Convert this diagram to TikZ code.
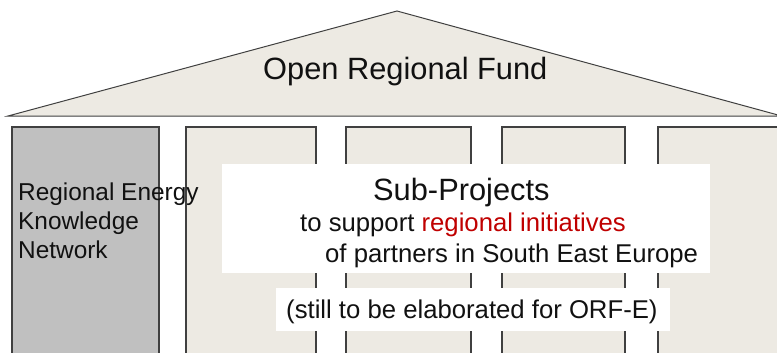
\documentclass[tikz,border=0pt]{standalone}
\usepackage{fontspec}
\setmainfont{Liberation Sans}
\definecolor{beige}{HTML}{EDEAE3}
\definecolor{pgray}{HTML}{C0C0C0}
\definecolor{edge}{HTML}{404040}
\definecolor{redtxt}{HTML}{C00000}
\definecolor{txt}{HTML}{111111}
\tikzset{
  pillar/.style={fill=beige, draw=edge, line width=1.1pt},
  graypillar/.style={fill=pgray, draw=edge, line width=1.1pt},
  roof/.style={fill=beige, draw=edge, line width=1pt, line join=miter},
  wbox/.style={fill=white, draw=none},
  lbl/.style={inner sep=0pt, text=txt, anchor=base west}
}
\begin{document}
\begin{tikzpicture}[x=1pt, y=-1pt]
\useasboundingbox (0,0) rectangle (777,353);
\clip (0,0) rectangle (777,353);
% roof
\draw[roof] (8,116) -- (397,11) -- (778,115) -- (778,116) -- cycle;
% pillars
\draw[graypillar] (12,360) -- (12,127) -- (159,127) -- (159,360);
\draw[pillar] (186,360) -- (186,127) -- (316,127) -- (316,360);
\draw[pillar] (346,360) -- (346,127) -- (471,127) -- (471,360);
\draw[pillar] (502,360) -- (502,127) -- (625,127) -- (625,360);
\draw[pillar] (658,360) -- (658,127) -- (790,127);
\fill[beige] (659,128) rectangle (790,360);
% white boxes
\fill[wbox] (222,164) rectangle (710,273);
\fill[wbox] (276,288) rectangle (670,331);
% texts
\node[lbl, font=\fontsize{30.8}{34}\selectfont] (title) at (263,80) {Open Regional Fund};
\node[lbl, font=\fontsize{24.4}{28}\selectfont] (rekn1) at (18,200) {Regional Energy};
\node[lbl, font=\fontsize{24.4}{28}\selectfont] (rekn2) at (18,229) {Knowledge};
\node[lbl, font=\fontsize{24.4}{28}\selectfont] (rekn3) at (18,258) {Network};
\node[lbl, font=\fontsize{30.8}{34}\selectfont] (sub) at (373,200) {Sub-Projects};
\node[lbl, font=\fontsize{25.7}{30}\selectfont] (sup1) at (300,231) {to support \textcolor{redtxt}{regional initiatives}};
\node[lbl, font=\fontsize{25.7}{30}\selectfont] (sup2) at (325,262) {of partners in South East Europe};
\node[lbl, font=\fontsize{25.7}{30}\selectfont] (still) at (286,318) {(still to be elaborated for ORF-E)};
\end{tikzpicture}
\end{document}
